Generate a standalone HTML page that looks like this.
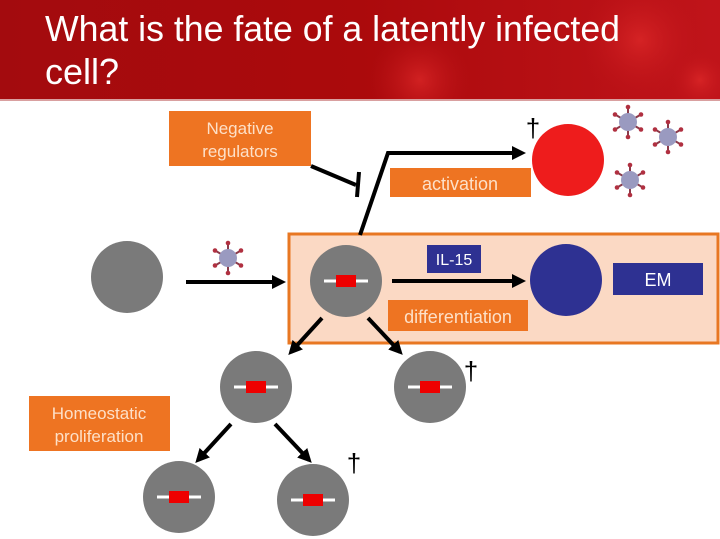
<!DOCTYPE html>
<html><head><meta charset="utf-8"><style>
html,body{margin:0;padding:0;background:#fff;}
svg{display:block;font-family:"Liberation Sans",Arial,sans-serif;}
</style></head><body>
<svg width="720" height="539" viewBox="0 0 720 539" xmlns="http://www.w3.org/2000/svg">
<defs>
<linearGradient id="hg" x1="0" y1="0" x2="1" y2="0">
<stop offset="0" stop-color="#a30b0e"/><stop offset="0.5" stop-color="#ab0a0c"/><stop offset="1" stop-color="#c0141a"/>
</linearGradient>
<radialGradient id="blob"><stop offset="0" stop-color="#e02a2a" stop-opacity="0.7"/><stop offset="1" stop-color="#c0141a" stop-opacity="0"/></radialGradient>
<clipPath id="hc"><rect x="0" y="0" width="720" height="100"/></clipPath>
<marker id="ah" markerWidth="14" markerHeight="14" refX="10" refY="7" orient="auto" markerUnits="userSpaceOnUse">
<path d="M0,0 L14,7 L0,14 Z" fill="#000"/></marker>
<g id="cell"><circle r="36" fill="#7a7a7a"/><line x1="-22" y1="0" x2="22" y2="0" stroke="#fff" stroke-width="3"/><rect x="-10" y="-6" width="20" height="12" fill="#e00"/></g>
<g id="vir">
<g stroke="#8a3a4a" stroke-width="2">
<line x1="0" y1="-15" x2="0" y2="15"/><line x1="-13" y1="-7.5" x2="13" y2="7.5"/><line x1="-13" y1="7.5" x2="13" y2="-7.5"/></g>
<g fill="#b03040"><circle cx="0" cy="-15" r="2.3"/><circle cx="0" cy="15" r="2.3"/><circle cx="-13" cy="-7.5" r="2.3"/><circle cx="13" cy="7.5" r="2.3"/><circle cx="-13" cy="7.5" r="2.3"/><circle cx="13" cy="-7.5" r="2.3"/></g>
<circle r="9" fill="#9a9ac0"/></g>
</defs>
<rect x="0" y="0" width="720" height="100" fill="url(#hg)"/>
<g clip-path="url(#hc)">
<circle cx="640" cy="40" r="60" fill="url(#blob)"/>
<circle cx="420" cy="80" r="50" fill="url(#blob)"/>
<circle cx="700" cy="80" r="30" fill="url(#blob)"/>
</g>
<line x1="0" y1="100" x2="720" y2="100" stroke="#d9a0a0" stroke-width="2"/>
<text x="45" y="41" font-size="36" fill="#fff" textLength="575" lengthAdjust="spacingAndGlyphs">What is the fate of a latently infected</text>
<text x="45" y="84" font-size="36" fill="#fff">cell?</text>

<rect x="169" y="111" width="142" height="55" fill="#ee7422"/>
<text x="240" y="134" font-size="17" fill="#fde0c8" text-anchor="middle">Negative</text>
<text x="240" y="157" font-size="17" fill="#fde0c8" text-anchor="middle">regulators</text>
<line x1="311" y1="166" x2="356" y2="185" stroke="#000" stroke-width="4"/>
<line x1="359" y1="172" x2="357" y2="197" stroke="#000" stroke-width="4"/>

<rect x="289" y="234" width="429" height="109" fill="#fbd9c4" stroke="#e87722" stroke-width="3"/>

<polyline points="360,235 388,153 522,153" fill="none" stroke="#000" stroke-width="4" marker-end="url(#ah)"/>
<rect x="390" y="168" width="141" height="29" fill="#ee7422"/>
<text x="460" y="190" font-size="18" fill="#fde0c8" text-anchor="middle">activation</text>
<circle cx="568" cy="160" r="36" fill="#ee1c1c"/>
<text x="533" y="137" font-size="26" fill="#000" text-anchor="middle">†</text>
<use href="#vir" x="628" y="122"/>
<use href="#vir" x="668" y="137"/>
<use href="#vir" x="630" y="180"/>

<circle cx="127" cy="277" r="36" fill="#7a7a7a"/>
<use href="#vir" x="228" y="258"/>
<line x1="186" y1="282" x2="282" y2="282" stroke="#000" stroke-width="4" marker-end="url(#ah)"/>

<use href="#cell" x="346" y="281"/>
<rect x="427" y="245" width="54" height="28" fill="#2e3192"/>
<text x="454" y="265" font-size="16" fill="#fff" text-anchor="middle">IL-15</text>
<line x1="392" y1="281" x2="522" y2="281" stroke="#000" stroke-width="4" marker-end="url(#ah)"/>
<circle cx="566" cy="280" r="36" fill="#2e3192"/>
<rect x="613" y="263" width="90" height="32" fill="#2e3192"/>
<text x="658" y="286" font-size="18" fill="#fff" text-anchor="middle">EM</text>
<rect x="388" y="300" width="140" height="31" fill="#ee7422"/>
<text x="458" y="323" font-size="18" fill="#fde0c8" text-anchor="middle">differentiation</text>

<line x1="322" y1="318" x2="291" y2="352" stroke="#000" stroke-width="4" marker-end="url(#ah)"/>
<line x1="368" y1="318" x2="400" y2="352" stroke="#000" stroke-width="4" marker-end="url(#ah)"/>
<use href="#cell" x="256" y="387"/>
<use href="#cell" x="430" y="387"/>
<text x="471" y="380" font-size="26" fill="#000" text-anchor="middle">†</text>

<rect x="29" y="396" width="141" height="55" fill="#ee7422"/>
<text x="99" y="419" font-size="17" fill="#fde0c8" text-anchor="middle">Homeostatic</text>
<text x="99" y="442" font-size="17" fill="#fde0c8" text-anchor="middle">proliferation</text>

<line x1="231" y1="424" x2="198" y2="460" stroke="#000" stroke-width="4" marker-end="url(#ah)"/>
<line x1="275" y1="424" x2="309" y2="460" stroke="#000" stroke-width="4" marker-end="url(#ah)"/>
<use href="#cell" x="179" y="497"/>
<use href="#cell" x="313" y="500"/>
<text x="354" y="472" font-size="26" fill="#000" text-anchor="middle">†</text>
</svg>
</body></html>
